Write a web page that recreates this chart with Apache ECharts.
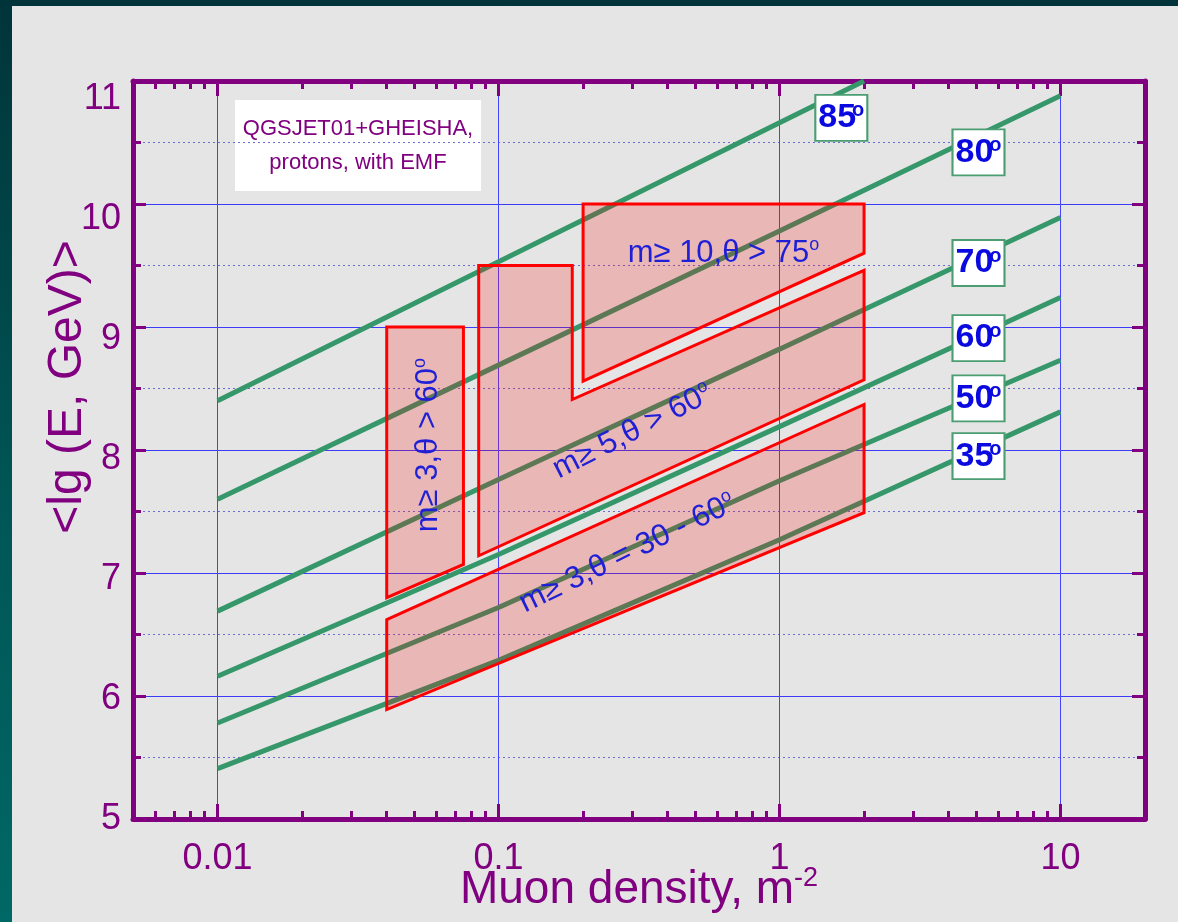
<!DOCTYPE html>
<html>
<head>
<meta charset="utf-8">
<title>Muon density vs primary energy</title>
<script src="https://cdn.jsdelivr.net/npm/echarts@6/dist/echarts.min.js"></script>
<style>
  html, body { margin: 0; padding: 0; width: 1178px; height: 922px; overflow: hidden;
    background: linear-gradient(to bottom, #00343a 0%, #005656 55%, #006866 100%); }
  #chart { position: absolute; left: 12px; top: 6px; width: 1166px; height: 916px; }
</style>
</head>
<body>
<div id="chart"></div>
<script>
// ---- axis ticks ----
const xMajorTicks = [0.01, 0.1, 1, 10];
const xMinorTicks = [0.006, 0.007, 0.008, 0.009,
  0.02, 0.03, 0.04, 0.05, 0.06, 0.07, 0.08, 0.09,
  0.2, 0.3, 0.4, 0.5, 0.6, 0.7, 0.8, 0.9,
  2, 3, 4, 5, 6, 7, 8, 9];
const yTickLabels = [5, 6, 7, 8, 9, 10, 11];

// ---- <lg E> vs muon density for fixed zenith angles ----
const angleNames = ['85', '80', '70', '60', '50', '35'];
const curve85 = [[0.01, 8.40], [0.1, 9.53], [1, 10.66], [2.0, 11.0]];
const curve80 = [[0.01, 7.60], [0.1, 8.69], [1, 9.78], [10, 10.88]];
const curve70 = [[0.01, 6.69], [0.1, 7.76], [1, 8.82], [10, 9.89]];
const curve60 = [[0.01, 6.16], [0.1, 7.15], [1, 8.19], [10, 9.24]];
const curve50 = [[0.01, 5.78], [0.1, 6.72], [1, 7.75], [10, 8.73]];
const curve35 = [[0.01, 5.41], [0.1, 6.29], [1, 7.27], [10, 8.31]];

// ---- selection regions (muon multiplicity / zenith angle cuts) ----
const regionNames = ['m\u2265 3,\u03b8 > 60', 'm\u2265 5,\u03b8 > 60', 'm\u2265 10,\u03b8 > 75', 'm\u2265 3,\u03b8 = 30 - 60'];
const regionA = [[0.04, 9.0], [0.075, 9.0], [0.075, 7.07], [0.04, 6.80]];
const regionB = [[0.085, 9.5], [0.183, 9.5], [0.183, 8.41], [2.0, 9.46], [2.0, 8.57], [0.085, 7.14]];
const regionC = [[0.2, 10.0], [2.0, 10.0], [2.0, 9.60], [0.2, 8.56]];
const regionD = [[0.04, 6.62], [2.0, 8.37], [2.0, 7.49], [0.04, 5.89]];

const curves = [curve85, curve80, curve70, curve60, curve50, curve35];
const regions = [regionA, regionB, regionC, regionD];

// ---- styling ----
const PURPLE = '#800080';
const GREEN = '#35976a';
const BLUE_TEXT = '#1f1fd6';
const FONT = '"Liberation Sans", Arial, sans-serif';
const GRID = { left: 121, top: 75, width: 1012, height: 738 };

// where each angle tag sits, and where each region caption sits (data coordinates)
const tagAnchors = [[1.66, 10.70], [5.11, 10.42], [5.11, 9.52], [5.11, 8.91], [5.11, 8.42], [5.11, 7.95]];
const captionAnchors = [[0.0563, 8.04], [0.30, 8.15], [0.632, 9.60], [0.288, 7.16]];
const captionTurn = [90, 27, 0, 26];

const frameLine = { show: true, onZero: false, lineStyle: { color: PURPLE, width: 5 } };

function logX(position, major, withLine) {
  return {
    type: 'log', logBase: 10, min: 0.005, max: 20, position: position, gridIndex: 0,
    axisLine: withLine ? frameLine : { show: false },
    axisTick: {
      show: true, inside: true, length: major ? 15 : 8,
      customValues: major ? xMajorTicks : xMinorTicks,
      lineStyle: { color: PURPLE, width: 3 }
    },
    axisLabel: { show: false },
    splitLine: { show: false }
  };
}

const xBottom = logX('bottom', true, true);
xBottom.axisLabel = {
  show: true, customValues: xMajorTicks, formatter: v => String(v),
  fontSize: 36, color: PURPLE, fontFamily: FONT, margin: 22
};
xBottom.splitLine = { show: true, lineStyle: { color: '#4444ff', width: 1 } };
xBottom.name = '{t|Muon density, m}{s|-2}';
xBottom.nameLocation = 'middle';
xBottom.nameGap = 46;
xBottom.nameMoveOverlap = false;
xBottom.nameTextStyle = {
  rich: {
    t: { fontSize: 46, color: PURPLE, fontFamily: FONT, lineHeight: 50 },
    s: { fontSize: 27, color: PURPLE, fontFamily: FONT, verticalAlign: 'top', lineHeight: 50, padding: [0, 0, 20, 0] }
  }
};

function valueY(position, withGrid) {
  return {
    type: 'value', min: 5, max: 11, interval: 1, position: position, gridIndex: 0,
    axisLine: frameLine,
    axisTick: { show: true, inside: true, length: 13, lineStyle: { color: PURPLE, width: 3 } },
    minorTick: { show: true, splitNumber: 2, length: 8, lineStyle: { color: PURPLE, width: 3 } },
    axisLabel: { show: false },
    splitLine: { show: withGrid, lineStyle: { color: '#3c3cf8', width: 1 } },
    minorSplitLine: { show: withGrid, lineStyle: { color: '#6b6bd6', width: 1, type: [2, 3] } }
  };
}

// label-only axis: the printed numbers are spaced a little tighter than the grid
const yLabels = {
  type: 'value', min: 5, max: 5 + GRID.height / 120, interval: 1, position: 'left', gridIndex: 0,
  axisLine: { show: false }, axisTick: { show: false }, splitLine: { show: false },
  axisLabel: {
    show: true, fontSize: 36, color: PURPLE, fontFamily: FONT, margin: 12,
    formatter: v => (yTickLabels.indexOf(v) >= 0 ? String(v) : '')
  }
};

const lineSeries = curves.map((c, i) => ({
  type: 'line', name: angleNames[i] + '\u00b0', data: c,
  xAxisIndex: 0, yAxisIndex: 0, showSymbol: false, smooth: false, z: 2,
  lineStyle: { color: GREEN, width: 5 }, silent: true,
  markPoint: {
    silent: true, symbol: 'rect', symbolSize: [52, 46], z: 6,
    itemStyle: { color: '#ffffff', borderColor: '#4a9e72', borderWidth: 2 },
    label: {
      show: true, position: 'inside', formatter: '{n|' + angleNames[i] + '}{o|o}',
      rich: {
        n: { fontSize: 34, fontWeight: 'bold', color: '#0a0ae0', fontFamily: '"Liberation Sans Narrow", "Liberation Sans", sans-serif', lineHeight: 34 },
        o: { fontSize: 20, fontWeight: 'bold', color: '#0a0ae0', fontFamily: FONT, verticalAlign: 'top', lineHeight: 34, padding: [0, 0, 16, -4] }
      }
    },
    data: [{ coord: tagAnchors[i] }]
  }
}));

const regionSeries = {
  type: 'custom', xAxisIndex: 0, yAxisIndex: 0, z: 3, silent: true,
  data: regions.map((r, i) => [r[0][0], r[0][1], i]),
  renderItem: function (params, api) {
    const idx = api.value(2);
    const pts = regions[idx].map(p => api.coord(p));
    const at = api.coord(captionAnchors[idx]);
    return {
      type: 'group',
      children: [
        { type: 'polygon', shape: { points: pts },
          style: { fill: 'rgba(255,0,0,0.2)', stroke: '#ff0000', lineWidth: 3, lineJoin: 'miter' } },
        { type: 'text', x: at[0], y: at[1], rotation: captionTurn[idx] * Math.PI / 180,
          style: {
            text: '{t|' + regionNames[idx] + '}{o|o}',
            align: 'center', verticalAlign: 'middle',
            rich: {
              t: { fontSize: 31, fill: BLUE_TEXT, fontFamily: FONT, lineHeight: 34 },
              o: { fontSize: 18, fill: BLUE_TEXT, fontFamily: FONT, verticalAlign: 'top', lineHeight: 34, padding: [0, 0, 15, 0] }
            }
          } }
      ]
    };
  }
};

const chart = echarts.init(document.getElementById('chart'));
chart.setOption({
  animation: false,
  backgroundColor: '#e5e5e5',
  grid: Object.assign({ containLabel: false, outerBoundsMode: 'none' }, GRID),
  xAxis: [xBottom, logX('bottom', false, false), logX('top', true, true), logX('top', false, false)],
  yAxis: [valueY('left', true), valueY('right', false), yLabels],
  series: lineSeries.concat([regionSeries]),
  graphic: [
    {
      type: 'text', x: 56, y: 381, rotation: Math.PI / 2, z: 10,
      style: { text: '<lg (E, GeV)>', font: '48px "Liberation Sans", Arial, sans-serif', fill: PURPLE, align: 'center', verticalAlign: 'middle' }
    },
    {
      type: 'group', x: 223, y: 94, z: 10,
      children: [
        { type: 'rect', shape: { x: 0, y: 0, width: 246, height: 91 }, style: { fill: '#ffffff' } },
        { type: 'text', x: 123, y: 46,
          style: { text: 'QGSJET01+GHEISHA,\nprotons, with EMF', font: '22px "Liberation Sans", Arial, sans-serif', lineHeight: 34,
                   fill: PURPLE, align: 'center', verticalAlign: 'middle' } }
      ]
    }
  ]
});
</script>
</body>
</html>
